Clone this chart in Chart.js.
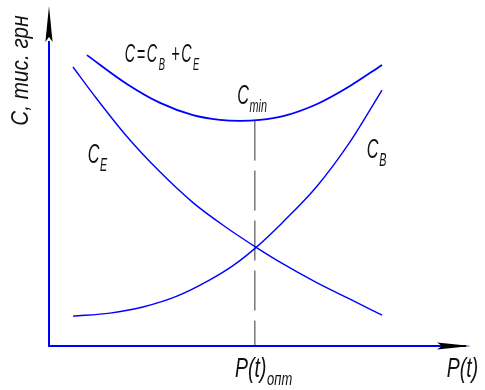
<!DOCTYPE html>
<html>
<head>
<meta charset="utf-8">
<script src="https://cdn.jsdelivr.net/npm/chart.js@4/dist/chart.umd.min.js"></script>
<style>
  html, body { margin: 0; padding: 0; background: #fff; }
  #wrap { width: 485px; height: 390px; }
</style>
</head>
<body>
<div id="wrap"><canvas id="chart" width="485" height="390"></canvas></div>
<script>
// Schematic: total cost C = C_B + C_E versus P(t).
// Units are arbitrary (0..10 on both axes).

// C (total) curve
const C_TOTAL_X = [0.90, 1.85, 2.64, 3.42, 4.06, 4.54, 5.01, 5.56, 6.37, 7.15, 7.91];
const C_TOTAL_Y = [8.58, 7.73, 7.17, 6.81, 6.67, 6.64, 6.67, 6.78, 7.14, 7.67, 8.29];

// C_E (falling) curve
const CE_X = [0.57, 1.05, 1.85, 2.64, 3.42, 4.23, 4.92, 5.56, 6.37, 7.15, 7.91];
const CE_Y = [8.23, 7.43, 6.18, 5.13, 4.23, 3.48, 2.91, 2.42, 1.86, 1.38, 0.91];

// C_B (rising) curve
const CB_X = [0.57, 1.45, 2.23, 3.04, 3.82, 4.37, 4.92, 5.56, 6.37, 7.15, 7.91];
const CB_Y = [0.88, 0.97, 1.15, 1.47, 1.95, 2.37, 2.91, 3.66, 4.72, 6.02, 7.55];

// optimum P(t) and the minimum cost it hits
const P_OPT = 4.89;
const C_MIN = 6.65;

const BLUE = "#0000ff";
const INK  = "#111111";
const FONT = '"Liberation Sans", "DejaVu Sans", sans-serif';

const toPoints = (xs, ys) => xs.map((x, i) => ({ x: x, y: ys[i] }));

// draw text runs (main + subscripts), squeezed horizontally to look like a drafting font
function drawRich(ctx, x, y, parts, size, sx, gap = 1) {
    ctx.save();
    ctx.translate(x, y);
    ctx.scale(sx, 1);
    let cx = 0;
    parts.forEach(([txt, sub]) => {
        const fs = sub ? Math.round(size * 0.66) : size;
        ctx.font = `italic ${fs}px ${FONT}`;
        ctx.fillText(txt, cx, sub ? size * 0.3 : 0);
        cx += ctx.measureText(txt).width + (sub ? gap + 1 : gap);
    });
    ctx.restore();
}

function arrow(ctx, tipX, tipY, dx, dy, len, half) {
    const bx = tipX - dx * len, by = tipY - dy * len;
    const nx = -dy, ny = dx;
    ctx.beginPath();
    ctx.moveTo(tipX, tipY);
    ctx.lineTo(bx + nx * half, by + ny * half);
    ctx.lineTo(bx + dx * 5, by + dy * 5);
    ctx.lineTo(bx - nx * half, by - ny * half);
    ctx.closePath();
    ctx.fill();
}

const decorPlugin = {
    id: "decor",
    beforeDatasetsDraw(chart) {
        const ctx = chart.ctx;
        const xs = chart.scales.x, ys = chart.scales.y;
        const x0 = xs.getPixelForValue(0), y0 = ys.getPixelForValue(0);
        const xEnd = xs.getPixelForValue(10), yEnd = ys.getPixelForValue(10);

        ctx.save();
        ctx.strokeStyle = BLUE;
        ctx.lineWidth = 2;
        ctx.beginPath();
        ctx.moveTo(x0, yEnd + 34);
        ctx.lineTo(x0, y0);
        ctx.lineTo(xEnd - 4, y0);
        ctx.stroke();

        ctx.fillStyle = "#000";
        arrow(ctx, xEnd + 1, y0, 1, 0, 34, 3.6);
        arrow(ctx, x0, yEnd - 1, 0, -1, 36, 3.6);
        ctx.restore();
    },
    afterDatasetsDraw(chart) {
        const ctx = chart.ctx;
        const xs = chart.scales.x, ys = chart.scales.y;
        const px = (v) => xs.getPixelForValue(v);
        const py = (v) => ys.getPixelForValue(v);

        ctx.save();
        ctx.fillStyle = INK;
        ctx.textBaseline = "alphabetic";
        ctx.textAlign = "left";

        // formula label
        drawRich(ctx, px(1.80), py(8.38),
            [["C"], ["="], ["C"], ["B", true], [" +"], ["C"], ["E", true]], 26, 0.55, 3);
        // C_min
        drawRich(ctx, px(4.47), py(7.15), [["C"], ["min", true]], 27, 0.6);
        // C_E and C_B
        drawRich(ctx, px(0.92), py(5.40), [["C"], ["E", true]], 27, 0.6);
        drawRich(ctx, px(7.55), py(5.55), [["C"], ["B", true]], 27, 0.6);
        // x axis labels
        drawRich(ctx, px(4.42), py(-0.91), [["P(t)"], ["опт", true]], 27, 0.72);
        drawRich(ctx, px(9.45), py(-0.91), [["P(t)"]], 27, 0.72);

        // y axis title, rotated
        ctx.translate(px(0) - 21, py(6.5));
        ctx.rotate(-Math.PI / 2);
        ctx.scale(0.9, 1);
        ctx.font = `italic 23px ${FONT}`;
        ctx.fillText("С, тис. грн", 0, 0);
        ctx.restore();
    }
};

const lineStyle = {
    showLine: true,
    pointRadius: 0,
    borderColor: BLUE,
    borderWidth: 1.4,
    cubicInterpolationMode: "monotone",
    fill: false,
};

new Chart(document.getElementById("chart"), {
    type: "scatter",
    data: {
        datasets: [
            { ...lineStyle, label: "C",   data: toPoints(C_TOTAL_X, C_TOTAL_Y), borderWidth: 1.8 },
            { ...lineStyle, label: "C_E", data: toPoints(CE_X, CE_Y) },
            { ...lineStyle, label: "C_B", data: toPoints(CB_X, CB_Y) },
            {
                label: "P(t) опт",
                data: [{ x: P_OPT, y: C_MIN }, { x: P_OPT, y: 0 }],
                showLine: true,
                pointRadius: 0,
                borderColor: "#333",
                borderWidth: 1,
                borderDash: [40, 10],
            },
        ],
    },
    options: {
        responsive: false,
        animation: false,
        layout: { padding: { left: 49, right: 15, top: 7, bottom: 44 } },
        plugins: {
            legend: { display: false },
            tooltip: { enabled: false },
        },
        scales: {
            x: { type: "linear", min: 0, max: 10, display: false },
            y: { type: "linear", min: 0, max: 10, display: false },
        },
    },
    plugins: [decorPlugin],
});
</script>
</body>
</html>
